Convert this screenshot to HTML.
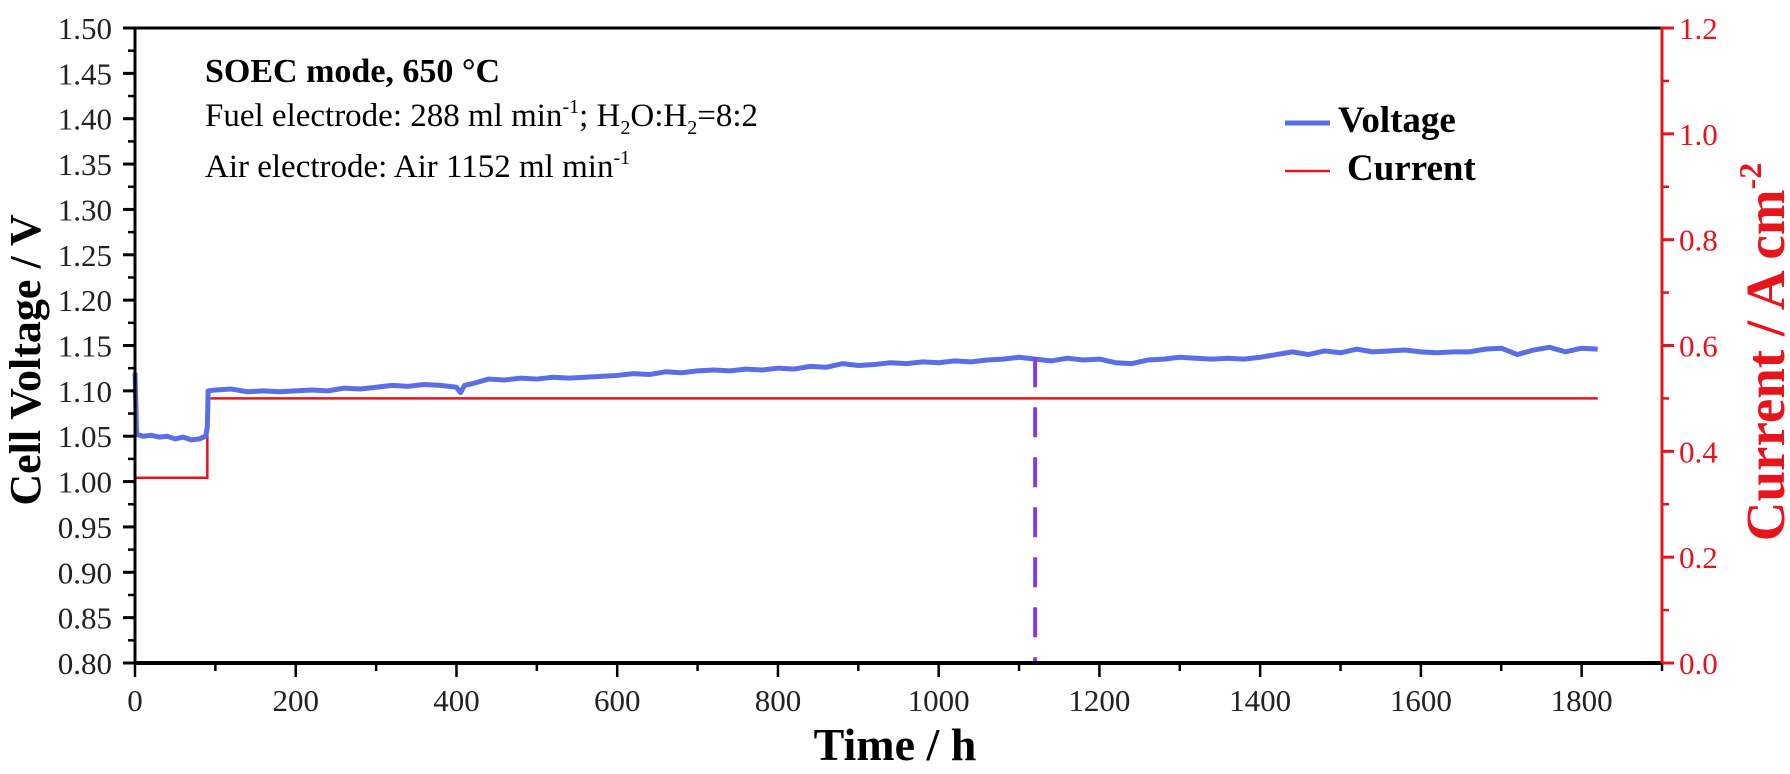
<!DOCTYPE html>
<html><head><meta charset="utf-8"><style>
html,body{margin:0;padding:0;background:#fff;}
svg{display:block;font-family:"Liberation Serif",serif;}
</style></head><body>
<svg id="chart" width="1790" height="774" viewBox="0 0 1790 774" xmlns="http://www.w3.org/2000/svg">
<g id="grid"></g>
<text x="205" y="82" font-size="34" font-weight="bold">SOEC mode, 650 °C</text>
<text x="205" y="126" font-size="33">Fuel electrode:  288 ml min<tspan font-size="20" dy="-13">-1</tspan><tspan dy="13">; H</tspan><tspan font-size="20" dy="8">2</tspan><tspan dy="-8">O:H</tspan><tspan font-size="20" dy="8">2</tspan><tspan dy="-8">=8:2</tspan></text>
<text x="205" y="177" font-size="33">Air electrode: Air 1152 ml min<tspan font-size="20" dy="-13">-1</tspan></text>
<g>
<line x1="1285" y1="123" x2="1330" y2="123" stroke="#5b6ee8" stroke-width="5"/>
<text x="1338" y="132" font-size="37" font-weight="bold">Voltage</text>
<line x1="1285" y1="171" x2="1330" y2="171" stroke="#e8141c" stroke-width="2.5"/>
<text x="1347" y="180" font-size="37" font-weight="bold">Current</text>
</g>
<text transform="translate(40,360) rotate(-90)" text-anchor="middle" font-size="44" font-weight="bold">Cell Voltage / V</text>
<text transform="translate(1784,352) rotate(-90)" text-anchor="middle" font-size="55" font-weight="bold" fill="#e8141c">Current / A cm<tspan font-size="32" dy="-23">-2</tspan></text>
<text x="895" y="760" text-anchor="middle" font-size="46" font-weight="bold">Time / h</text>
</svg>
<script>
const timeH = [0,2,10,20,30,40,50,60,70,80,88,90,91,100,120,140,160,180,200,220,240,260,280,300,320,340,360,380,400,405,410,420,440,460,480,500,520,540,560,580,600,620,640,660,680,700,720,740,760,780,800,820,840,860,880,900,920,940,960,980,1000,1020,1040,1060,1080,1100,1120,1140,1160,1180,1200,1220,1240,1260,1280,1300,1320,1340,1360,1380,1400,1420,1440,1460,1480,1500,1520,1540,1560,1580,1600,1620,1640,1660,1680,1700,1720,1740,1760,1780,1800,1820];
const voltage = [1.120,1.052,1.050,1.051,1.049,1.050,1.047,1.049,1.046,1.047,1.050,1.060,1.100,1.101,1.102,1.099,1.100,1.099,1.100,1.101,1.100,1.103,1.102,1.104,1.106,1.105,1.107,1.106,1.104,1.098,1.106,1.108,1.113,1.112,1.114,1.113,1.115,1.114,1.115,1.116,1.117,1.119,1.118,1.121,1.120,1.122,1.123,1.122,1.124,1.123,1.125,1.124,1.127,1.126,1.130,1.128,1.129,1.131,1.130,1.132,1.131,1.133,1.132,1.134,1.135,1.137,1.135,1.133,1.136,1.134,1.135,1.131,1.130,1.134,1.135,1.137,1.136,1.135,1.136,1.135,1.137,1.140,1.143,1.140,1.144,1.142,1.146,1.143,1.144,1.145,1.143,1.142,1.143,1.143,1.146,1.147,1.140,1.145,1.148,1.143,1.147,1.146];
const currentT = [0,90,90,1820];
const currentV = [0.35,0.35,0.5,0.5];
const markerT = [1120];
const markerV = [1.137];
const xTicks = [0,200,400,600,800,1000,1200,1400,1600,1800];
const yTicks = [0.80,0.85,0.90,0.95,1.00,1.05,1.10,1.15,1.20,1.25,1.30,1.35,1.40,1.45,1.50];
const y2Ticks = [0.0,0.2,0.4,0.6,0.8,1.0,1.2];

const L=135,R=1662,T=28,B=663;
const X0=0,X1=1900,Y0=0.8,Y1=1.5,C0=0,C1=1.2;
const sx=t=>L+(t-X0)/(X1-X0)*(R-L);
const sy=v=>B-(v-Y0)/(Y1-Y0)*(B-T);
const sc=v=>B-(v-C0)/(C1-C0)*(B-T);
const NS="http://www.w3.org/2000/svg";
const g=document.getElementById('grid');
function mk(tag,attrs,parent){const e=document.createElementNS(NS,tag);for(const k in attrs)e.setAttribute(k,attrs[k]);(parent||g).appendChild(e);return e;}

let p=mk('polyline',{points:currentT.map((t,i)=>sx(t)+','+sc(currentV[i])).join(' '),fill:'none',stroke:'#e8141c','stroke-width':2.5});


let v=mk('polyline',{points:timeH.map((t,i)=>sx(t)+','+sy(voltage[i])).join(' '),fill:'none',stroke:'#5b6ee8','stroke-width':5,'stroke-linejoin':'round'});


let d=mk('line',{x1:sx(markerT[0]),x2:sx(markerT[0]),y1:sy(markerV[0]),y2:B,stroke:'#8a3be0','stroke-width':4,'stroke-dasharray':'30 20'});



let a;
a=mk('line',{x1:L,y1:T,x2:R,y2:T,stroke:'#000','stroke-width':3});


a=mk('line',{x1:L,y1:T-1.5,x2:L,y2:B+1.5,stroke:'#000','stroke-width':3});


a=mk('line',{x1:L-1.5,y1:B,x2:R,y2:B,stroke:'#000','stroke-width':4});


a=mk('line',{x1:R,y1:T-1.5,x2:R,y2:B+2,stroke:'#e8141c','stroke-width':3});



for(let t=0;t<=1900;t+=100){
  const major=t%200===0;
  let tk=mk('line',{x1:sx(t),x2:sx(t),y1:B,y2:B+(major?14:8),stroke:'#000','stroke-width':2.5});
  
  
}
xTicks.forEach(t=>{
  let tx=mk('text',{x:sx(t),y:711,'text-anchor':'middle','font-size':31,fill:'#222'});
  tx.textContent=String(t);
  
  
});
for(let i=0;i<yTicks.length;i++){
  const yv=yTicks[i];
  let tk=mk('line',{x1:L-12,x2:L,y1:sy(yv),y2:sy(yv),stroke:'#000','stroke-width':3});
  
  
  if(i<yTicks.length-1){
    let mn=mk('line',{x1:L-7,x2:L,y1:sy(yv+0.025),y2:sy(yv+0.025),stroke:'#000','stroke-width':2.5});
    
    
  }
  let tx=mk('text',{x:L-23,y:sy(yv)+11,'text-anchor':'end','font-size':31,fill:'#222'});
  tx.textContent=yv.toFixed(2);
  
  
}
for(let i=0;i<y2Ticks.length;i++){
  const cv=y2Ticks[i];
  let tk=mk('line',{x1:R,x2:R+12,y1:sc(cv),y2:sc(cv),stroke:'#e8141c','stroke-width':3});
  
  
  if(i<y2Ticks.length-1){
    let mn=mk('line',{x1:R,x2:R+7,y1:sc(cv+0.1),y2:sc(cv+0.1),stroke:'#e8141c','stroke-width':2.5});
    
    
  }
  let tx=mk('text',{x:R+17,y:sc(cv)+11,'text-anchor':'start','font-size':31,fill:'#e8141c'});
  tx.textContent=cv.toFixed(1);
  
  
}
</script>
</body></html>
